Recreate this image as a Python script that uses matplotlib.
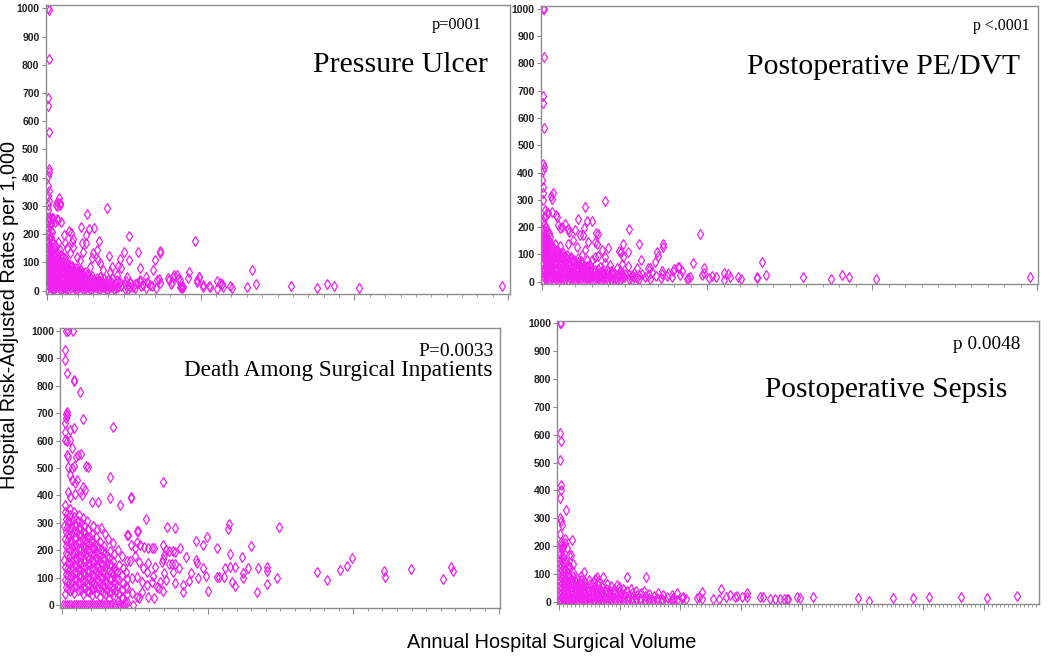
import matplotlib
matplotlib.use('Agg')
import matplotlib.pyplot as plt
from matplotlib.ticker import MultipleLocator

# x values are annual volume in panel units (thousands), y values are rates per 1,000
pressure_ulcer = [
    (0.05, 1000), (0.1, 995), (0.15, 819), (0.08, 681), (0.04, 654), (0.13, 561), (0.12, 430), (0.12, 420),
    (0.08, 405), (0.05, 370), (0.1, 352), (0.07, 335), (0.12, 318), (0.06, 302), (0.09, 287),
    (0.63, 315), (0.76, 327), (0.67, 300), (0.56, 305), (0.87, 312), (0.85, 303), (0.63, 253), (0.89, 244),
    (0.1, 262), (0.2, 255), (0.25, 240), (0.3, 258),
    (3.88, 294), (2.62, 270), (2.21, 227), (2.75, 217), (3.06, 223), (2.56, 197), (1.43, 212), (1.56, 203),
    (1.69, 182), (1.13, 196), (3.41, 175), (2.52, 168), (2.3, 168), (3.28, 144), (5.31, 195), (4.01, 123),
    (5.0, 137), (4.72, 111), (5.31, 109), (4.64, 88), (4.84, 79), (5.9, 136), (6.05, 79), (7.03, 109),
    (7.35, 132), (7.35, 141), (6.88, 73), (6.44, 50), (7.29, 40), (8.27, 54), (8.55, 43), (7.94, 38),
    (8.05, 24), (9.24, 67), (9.61, 177), (9.89, 50), (9.74, 32), (10.13, 12), (10.56, 17), (11.04, 34),
    (11.26, 28), (11.43, 14), (11.08, 5), (11.91, 17), (12.06, 11), (13.04, 14), (13.36, 73), (13.62, 24),
    (15.86, 17), (17.55, 8), (18.24, 24), (18.7, 17), (20.28, 8), (29.63, 18), (8.7, 12), (8.85, 14), (8.78, 17),
    (3.02, 132), (2.91, 115), (3.34, 109), (2.15, 109), (1.93, 121), (1.5, 132), (1.28, 150), (0.85, 144),
    (1.06, 121), (1.71, 156), (1.61, 174), (1.17, 168), (0.74, 174), (0.52, 162), (0.2, 185), (0.3, 209),
    (0.52, 244), (0.74, 250), (0.41, 256), (2.36, 138), (2.8, 85), (3.45, 97), (3.67, 73), (4.1, 67),
    (4.21, 85), (4.53, 56), (5.18, 50), (5.4, 32), (5.84, 26), (6.05, 38), (6.49, 32), (6.7, 20), (6.27, 20),
    (7.14, 38), (7.35, 26), (7.9, 44), (8.22, 50), (8.11, 32), (8.44, 56), (8.66, 38), (8.66, 14), (8.76, 8),
    (9.2, 44), (9.74, 38), (9.91, 50), (10.17, 20), (10.61, 14), (11.37, 23),
    (0.03, 5), (0.08, 20), (0.04, 35), (0.1, 50), (0.05, 65), (0.09, 80), (0.03, 95), (0.1, 110), (0.06, 125),
    (0.02, 140), (0.09, 155), (0.05, 170), (0.1, 185), (0.04, 200), (0.08, 215), (0.03, 230), (0.07, 245),
    (0.26, 10), (0.22, 25), (0.28, 40), (0.24, 55), (0.3, 70), (0.21, 85), (0.27, 100), (0.23, 115), (0.29, 130),
    (0.25, 145), (0.2, 160), (0.31, 175), (0.24, 190), (0.28, 210), (0.22, 228),
    (0.45, 5), (0.49, 18), (0.43, 33), (0.47, 48), (0.5, 62), (0.44, 77), (0.48, 92), (0.42, 108), (0.46, 123),
    (0.51, 138), (0.45, 152), (0.4, 168),
    (0.7, 12), (0.66, 27), (0.73, 42), (0.68, 57), (0.72, 72), (0.65, 87), (0.71, 102), (0.69, 118), (0.74, 133),
    (0.95, 5), (0.91, 20), (0.98, 35), (0.93, 50), (0.97, 66), (0.92, 81), (0.96, 96), (0.99, 112), (0.94, 127),
    (1.2, 10), (1.16, 24), (1.23, 39), (1.18, 54), (1.22, 70), (1.17, 85), (1.21, 100), (1.19, 116),
    (1.45, 4), (1.42, 19), (1.48, 34), (1.44, 48), (1.47, 63), (1.41, 78), (1.46, 94),
    (1.7, 12), (1.67, 27), (1.73, 42), (1.69, 57), (1.72, 72), (1.66, 88),
    (1.95, 6), (1.92, 20), (1.98, 35), (1.94, 50), (1.97, 65), (1.93, 80),
    (2.2, 14), (2.17, 29), (2.23, 44), (2.19, 59), (2.22, 74),
    (2.45, 5), (2.42, 20), (2.48, 35), (2.44, 50), (2.47, 66),
    (2.7, 12), (2.67, 27), (2.73, 42), (2.69, 58),
    (2.95, 6), (2.92, 21), (2.98, 36), (2.94, 51),
    (3.2, 14), (3.17, 29), (3.23, 44), (3.45, 5), (3.42, 20), (3.48, 35), (3.44, 50),
    (3.7, 13), (3.67, 28), (3.73, 43), (3.95, 6), (3.92, 21), (3.98, 37),
    (4.2, 14), (4.17, 29), (4.23, 45), (4.5, 8), (4.47, 23), (4.53, 38),
    (4.8, 15), (4.77, 30), (5.1, 7), (5.07, 22), (5.13, 36), (5.4, 14), (5.37, 28),
    (5.75, 9), (5.72, 24), (6.1, 16), (6.07, 30), (6.45, 10), (6.8, 18), (7.1, 8),
    (0.14, 13), (0.15, 28), (0.13, 43), (0.16, 58), (0.14, 73), (0.12, 88), (0.15, 103), (0.13, 118),
    (0.16, 133), (0.14, 148), (0.12, 163),
    (0.36, 6), (0.34, 21), (0.37, 36), (0.35, 51), (0.38, 66), (0.33, 81), (0.36, 96), (0.34, 111),
    (0.37, 126), (0.35, 141),
    (0.58, 13), (0.6, 28), (0.57, 43), (0.59, 58), (0.56, 73), (0.6, 88), (0.58, 103), (0.57, 118),
    (0.82, 6), (0.84, 21), (0.81, 36), (0.83, 51), (0.8, 66), (0.84, 81), (0.82, 96), (0.81, 111),
    (1.07, 13), (1.09, 28), (1.06, 43), (1.08, 58), (1.05, 73), (1.09, 88), (1.07, 103),
    (1.32, 6), (1.34, 21), (1.31, 36), (1.33, 51), (1.3, 66), (1.34, 81), (1.32, 96),
    (1.57, 13), (1.59, 28), (1.56, 43), (1.58, 58), (1.55, 73), (1.59, 88),
    (1.82, 6), (1.84, 21), (1.81, 36), (1.83, 51), (1.8, 66), (1.84, 80),
    (2.07, 13), (2.09, 28), (2.06, 43), (2.08, 58), (2.05, 70),
    (2.32, 6), (2.34, 21), (2.31, 36), (2.33, 51), (2.3, 64),
    (2.57, 13), (2.59, 28), (2.56, 43), (2.58, 55), (2.82, 6), (2.84, 21), (2.81, 36), (2.83, 48),
    (3.07, 13), (3.09, 28), (3.06, 43), (3.32, 6), (3.34, 21), (3.31, 36),
    (3.57, 13), (3.59, 28), (3.82, 6), (3.84, 21), (3.81, 35), (4.07, 13), (4.09, 28),
    (4.35, 6), (4.37, 20), (4.65, 12), (4.67, 26), (5.25, 6), (5.27, 20), (5.6, 12),
]

pe_dvt = [
    (0.04, 1000), (0.12, 1000), (0.12, 822), (0.08, 681), (0.04, 656), (0.1, 562), (0.08, 430), (0.12, 421),
    (0.04, 409), (0.02, 373), (0.04, 348), (0.06, 324), (0.04, 299),
    (0.55, 315), (0.69, 326), (0.63, 303), (2.61, 272), (3.84, 294), (0.63, 257), (0.83, 244), (2.2, 230),
    (2.71, 222), (3.01, 224), (1.37, 211), (1.56, 194), (1.64, 183), (1.09, 196), (2.53, 198), (5.29, 194),
    (3.37, 174), (2.3, 171), (2.5, 170), (3.98, 122), (3.23, 144), (4.93, 137), (4.69, 114), (5.23, 108),
    (5.88, 137), (6.02, 80), (7.31, 137), (7.31, 128), (6.99, 108), (6.83, 71), (6.4, 49), (7.25, 40),
    (9.58, 174), (9.17, 67), (9.84, 49), (8.22, 55), (8.51, 40), (7.92, 40), (8.77, 11), (10.1, 12),
    (9.68, 25), (10.55, 16), (11.01, 33), (11.01, 6), (11.27, 28), (11.39, 16), (11.9, 19), (12.04, 11),
    (13.0, 16), (13.02, 14), (13.33, 72), (13.6, 25), (15.8, 19), (17.5, 11), (18.2, 23), (18.6, 19),
    (20.24, 9), (29.6, 19),
    (0.18, 263), (0.28, 256), (0.38, 250), (0.18, 238), (0.89, 238), (1.6, 192), (1.19, 199), (0.99, 208),
    (3.27, 177), (2.81, 147), (3.31, 140), (2.0, 189), (1.9, 153), (2.1, 128), (1.6, 140), (4.77, 110),
    (4.93, 92), (7.05, 94), (8.02, 45), (8.32, 55), (8.36, 24), (8.87, 12), (8.97, 18), (9.84, 31), (10.28, 21),
    (6.55, 51), (6.65, 37), (5.74, 49), (5.23, 57), (4.83, 65), (4.53, 52), (4.12, 61), (3.82, 70), (3.52, 55),
    (3.62, 37), (4.22, 31), (4.83, 33), (5.43, 24), (6.04, 28), (6.44, 21), (7.25, 28), (7.66, 31), (7.86, 18),
    (3.21, 92), (3.01, 79), (3.41, 94), (3.62, 116), (3.82, 92), (2.61, 116), (2.4, 98), (2.2, 86), (2.71, 79),
    (2.91, 61),
    (0.03, 5), (0.07, 20), (0.04, 36), (0.09, 51), (0.05, 66), (0.1, 82), (0.03, 97), (0.08, 112), (0.05, 128),
    (0.1, 143), (0.04, 158), (0.08, 174), (0.03, 190), (0.09, 206), (0.05, 222), (0.1, 238),
    (0.27, 12), (0.23, 28), (0.3, 43), (0.25, 58), (0.29, 74), (0.22, 90), (0.28, 105), (0.24, 120), (0.3, 136),
    (0.26, 152), (0.21, 168), (0.29, 184), (0.25, 200),
    (0.5, 6), (0.47, 21), (0.53, 37), (0.49, 52), (0.52, 68), (0.46, 83), (0.51, 99), (0.48, 114), (0.54, 130),
    (0.47, 146), (0.5, 162), (0.45, 178),
    (0.76, 14), (0.72, 29), (0.79, 45), (0.74, 60), (0.78, 76), (0.71, 91), (0.77, 107), (0.73, 122), (0.8, 138),
    (1.02, 5), (0.98, 21), (1.05, 36), (1.0, 52), (1.04, 67), (0.97, 83), (1.03, 98), (0.99, 114), (1.06, 130),
    (1.28, 12), (1.24, 28), (1.31, 43), (1.26, 59), (1.3, 74), (1.23, 90), (1.29, 105),
    (1.55, 5), (1.51, 20), (1.57, 36), (1.53, 51), (1.56, 67), (1.5, 82), (1.54, 98),
    (1.8, 13), (1.77, 28), (1.83, 44), (1.79, 59), (1.82, 75), (1.76, 90),
    (2.06, 6), (2.03, 21), (2.09, 37), (2.05, 52), (2.08, 68),
    (2.32, 14), (2.29, 29), (2.35, 45), (2.31, 60), (2.34, 76),
    (2.58, 5), (2.55, 21), (2.61, 36), (2.57, 52), (2.84, 13), (2.81, 28), (2.87, 44), (2.83, 60),
    (3.1, 6), (3.07, 21), (3.13, 37), (3.36, 14), (3.33, 29), (3.39, 45),
    (3.62, 5), (3.59, 21), (3.65, 36), (3.88, 13), (3.85, 28), (3.91, 44),
    (4.15, 7), (4.12, 22), (4.18, 38), (4.42, 15), (4.39, 30),
    (4.7, 8), (4.67, 23), (4.73, 39), (4.98, 16), (5.01, 30), (5.28, 9), (5.25, 24),
    (5.58, 16), (5.55, 31), (5.9, 10), (5.87, 25), (6.22, 18), (6.55, 10), (6.88, 22), (7.2, 12), (7.55, 20),
    (0.15, 13), (0.16, 29), (0.14, 44), (0.17, 59), (0.15, 75), (0.13, 90), (0.16, 106), (0.14, 121),
    (0.17, 137), (0.15, 152), (0.13, 168), (0.16, 184),
    (0.38, 6), (0.36, 21), (0.39, 37), (0.37, 52), (0.4, 68), (0.35, 83), (0.38, 99), (0.36, 114),
    (0.39, 130), (0.37, 146),
    (0.62, 13), (0.64, 29), (0.61, 44), (0.63, 60), (0.6, 75), (0.64, 91), (0.62, 106), (0.61, 122),
    (0.88, 6), (0.9, 21), (0.87, 37), (0.89, 52), (0.86, 68), (0.9, 83), (0.88, 99), (0.87, 114),
    (1.15, 13), (1.17, 29), (1.14, 44), (1.16, 60), (1.13, 75), (1.17, 91), (1.15, 106),
    (1.41, 6), (1.43, 21), (1.4, 37), (1.42, 52), (1.39, 68), (1.43, 83), (1.41, 96),
    (1.68, 13), (1.7, 29), (1.67, 44), (1.69, 60), (1.66, 75), (1.7, 88),
    (1.94, 6), (1.96, 21), (1.93, 37), (1.95, 52), (1.92, 68), (1.96, 80),
    (2.2, 13), (2.22, 29), (2.19, 44), (2.21, 60), (2.18, 72),
    (2.46, 6), (2.48, 21), (2.45, 37), (2.47, 52), (2.44, 65),
    (2.72, 13), (2.74, 29), (2.71, 44), (2.73, 56), (2.98, 6), (3.0, 21), (2.97, 37), (2.99, 50),
    (3.24, 13), (3.26, 29), (3.23, 44), (3.5, 6), (3.52, 21), (3.49, 37),
    (3.76, 13), (3.78, 29), (4.02, 6), (4.04, 21), (4.01, 36), (4.28, 13), (4.3, 28),
    (4.56, 6), (4.58, 20), (4.85, 12), (4.87, 26), (5.45, 6), (5.47, 20), (5.75, 12),
]

death_surgical = [
    (0.29, 1000), (0.41, 1000), (0.75, 1000), (0.23, 930), (0.23, 896), (0.34, 848), (0.85, 823), (0.86, 818),
    (1.25, 778), (1.44, 679), (3.54, 649),
    (0.31, 699), (0.38, 705), (0.27, 681), (0.39, 693), (0.24, 663), (0.23, 632), (0.57, 638), (0.85, 645),
    (0.25, 602), (0.38, 600), (0.54, 602), (0.68, 574), (1.14, 547), (1.3, 550), (0.98, 541), (0.34, 547),
    (0.41, 541), (1.67, 508), (1.83, 505), (0.45, 505), (0.73, 499), (0.87, 508), (0.57, 474), (0.68, 456),
    (0.91, 444), (1.03, 458), (1.44, 432), (1.6, 419), (3.31, 468), (6.97, 450),
    (0.41, 413), (0.57, 395), (0.91, 407), (1.26, 413), (1.37, 401), (2.06, 377), (2.51, 377), (3.31, 389),
    (4.0, 365), (4.75, 395), (4.76, 392), (5.14, 270),
    (5.76, 313), (7.25, 285), (7.77, 280), (5.21, 271), (4.46, 255), (9.19, 235), (9.67, 219), (9.99, 249),
    (10.68, 207), (11.45, 294), (11.41, 276), (11.55, 185), (12.39, 176), (12.99, 215), (14.88, 283),
    (13.49, 136), (14.08, 140), (14.06, 124), (14.1, 75), (14.77, 100), (13.37, 46), (12.46, 116), (12.41, 97),
    (11.55, 137), (11.89, 137), (11.2, 136), (11.7, 85), (11.89, 71), (11.16, 102), (10.63, 103), (10.79, 103),
    (10.06, 51), (9.9, 107), (9.69, 136), (9.37, 97), (9.26, 152), (9.19, 164), (8.87, 118), (8.5, 176),
    (8.76, 88), (8.34, 73), (8.3, 48), (8.14, 207), (8.05, 136), (7.77, 192), (7.66, 197), (7.36, 197),
    (7.16, 201), (6.97, 219), (7.02, 182), (6.86, 158), (6.93, 167), (7.04, 116), (7.13, 91), (7.38, 148),
    (7.54, 148), (7.77, 148), (7.66, 122), (7.77, 79), (6.74, 85), (6.7, 61), (6.97, 51), (6.4, 137),
    (6.33, 24), (6.24, 107), (5.33, 24), (12.78, 136),
    (17.49, 119), (18.17, 93), (19.09, 127), (19.59, 142), (19.91, 170), (22.08, 124), (22.17, 101),
    (23.98, 130), (26.16, 95), (26.67, 140), (26.81, 125),
    (4.53, 255), (4.76, 219), (5.03, 207), (5.14, 231), (5.37, 219), (5.65, 213), (5.94, 207), (6.17, 207),
    (6.33, 207), (4.69, 161), (5.03, 180), (5.33, 158), (5.6, 134), (5.94, 152), (5.83, 122),
    (4.8, 97), (5.14, 103), (5.49, 85), (5.83, 73), (6.17, 85), (6.52, 67), (4.46, 61), (4.8, 43), (5.14, 30),
    (5.49, 49), (5.94, 30), (4.12, 24), (4.34, 12),
    (0.11, 0), (0.25, 0), (0.39, 0), (0.53, 0), (0.67, 0), (0.81, 0), (0.95, 0), (1.09, 0), (1.23, 0), (1.37, 0),
    (1.51, 0), (1.65, 0), (1.79, 0), (1.93, 0), (2.07, 0), (2.21, 0), (2.35, 0), (2.49, 0), (2.63, 0),
    (2.77, 0), (2.91, 0), (3.05, 0), (3.19, 0), (3.33, 0), (3.47, 0), (3.62, 0), (3.89, 0), (4.03, 0),
    (4.17, 0), (4.34, 0), (4.92, 0),
    (0.22, 40), (0.28, 65), (0.2, 90), (0.3, 115), (0.24, 140), (0.19, 165), (0.27, 190), (0.31, 215),
    (0.21, 240), (0.26, 265), (0.18, 290), (0.29, 315), (0.23, 340), (0.2, 365),
    (0.55, 52), (0.5, 77), (0.6, 102), (0.53, 127), (0.58, 152), (0.49, 177), (0.56, 202), (0.61, 227),
    (0.52, 252), (0.57, 277), (0.5, 302), (0.59, 327), (0.54, 350),
    (0.85, 45), (0.9, 70), (0.81, 95), (0.88, 120), (0.83, 145), (0.92, 170), (0.86, 195), (0.8, 220),
    (0.89, 245), (0.84, 270), (0.91, 295), (0.82, 320), (0.87, 340),
    (1.15, 55), (1.1, 80), (1.19, 105), (1.13, 130), (1.2, 155), (1.12, 180), (1.17, 205), (1.09, 230),
    (1.16, 255), (1.21, 280), (1.11, 305), (1.18, 330),
    (1.45, 42), (1.5, 67), (1.42, 92), (1.48, 117), (1.4, 142), (1.51, 167), (1.44, 192), (1.49, 217),
    (1.41, 242), (1.47, 267), (1.52, 292), (1.43, 318),
    (1.75, 50), (1.7, 75), (1.79, 100), (1.72, 125), (1.8, 150), (1.73, 175), (1.78, 200), (1.69, 225),
    (1.76, 250), (1.81, 275), (1.71, 305),
    (2.05, 35), (2.1, 60), (2.01, 85), (2.08, 110), (2.02, 135), (2.11, 160), (2.04, 185), (2.09, 210),
    (2.0, 235), (2.07, 260), (2.12, 290),
    (2.35, 45), (2.3, 70), (2.39, 95), (2.32, 120), (2.4, 145), (2.33, 170), (2.38, 195), (2.29, 220),
    (2.36, 248), (2.41, 278),
    (2.65, 30), (2.7, 55), (2.61, 80), (2.68, 105), (2.62, 130), (2.71, 155), (2.64, 180), (2.69, 205),
    (2.6, 230), (2.67, 280),
    (2.95, 40), (2.9, 65), (2.99, 90), (2.92, 115), (3.0, 140), (2.93, 165), (2.98, 190), (2.89, 215), (2.96, 258),
    (3.25, 22), (3.3, 48), (3.21, 73), (3.28, 98), (3.22, 123), (3.31, 148), (3.24, 173), (3.29, 198), (3.2, 240),
    (3.55, 35), (3.5, 60), (3.59, 85), (3.52, 110), (3.6, 135), (3.53, 160), (3.58, 185), (3.49, 228),
    (3.85, 15), (3.9, 42), (3.81, 68), (3.88, 95), (3.82, 120), (3.91, 145), (3.84, 200),
    (4.15, 28), (4.1, 55), (4.19, 82), (4.12, 108), (4.2, 135), (4.13, 178),
    (4.45, 12), (4.5, 40), (4.41, 68), (4.48, 95), (4.42, 122), (4.51, 160),
    (0.4, 58), (0.37, 83), (0.42, 108), (0.38, 133), (0.41, 158), (0.36, 183), (0.43, 208), (0.39, 233),
    (0.4, 258), (0.37, 283), (0.42, 308), (0.38, 333),
    (0.7, 60), (0.73, 85), (0.68, 110), (0.72, 135), (0.69, 160), (0.74, 185), (0.7, 210), (0.67, 235),
    (0.71, 260), (0.73, 285), (0.68, 310),
    (1.0, 68), (0.97, 93), (1.02, 118), (0.98, 143), (1.03, 168), (0.99, 193), (1.01, 218), (0.96, 243),
    (1.02, 268), (0.98, 293),
    (1.3, 55), (1.27, 80), (1.32, 105), (1.28, 130), (1.33, 155), (1.29, 180), (1.31, 205), (1.26, 230),
    (1.32, 255), (1.28, 280), (1.3, 300),
    (1.6, 62), (1.63, 87), (1.58, 112), (1.62, 137), (1.59, 162), (1.64, 187), (1.6, 212), (1.57, 237),
    (1.61, 262),
    (1.9, 48), (1.87, 73), (1.92, 98), (1.88, 123), (1.93, 148), (1.89, 173), (1.91, 198), (1.86, 223),
    (1.92, 248),
    (2.2, 57), (2.23, 82), (2.18, 107), (2.22, 132), (2.19, 157), (2.24, 182), (2.2, 207), (2.17, 232),
    (2.5, 62), (2.47, 87), (2.52, 112), (2.48, 137), (2.53, 162), (2.49, 187), (2.51, 212),
    (2.8, 48), (2.83, 73), (2.78, 98), (2.82, 123), (2.79, 148), (2.84, 173), (2.8, 198),
    (3.1, 55), (3.07, 80), (3.12, 105), (3.08, 130), (3.13, 155), (3.09, 180),
    (3.4, 45), (3.43, 70), (3.38, 95), (3.42, 120), (3.39, 145),
    (3.7, 50), (3.67, 75), (3.72, 100), (3.68, 125),
]

sepsis = [
    (0.08, 1000), (0.19, 1000), (0.08, 605), (0.19, 577), (0.08, 509), (0.13, 419), (0.13, 401), (0.11, 371),
    (0.58, 330), (0.08, 300), (0.16, 290), (0.22, 276), (0.08, 243), (1.1, 222), (0.49, 224), (0.63, 192),
    (0.14, 216), (0.17, 204), (0.2, 192), (0.85, 166), (1.18, 136), (0.22, 156), (0.3, 144), (0.41, 126),
    (0.36, 198), (0.49, 210), (0.22, 186), (0.36, 162), (0.49, 144), (0.96, 168), (0.77, 132), (0.91, 126),
    (2.09, 106), (3.1, 90), (3.6, 87), (2.99, 81), (5.63, 87), (7.17, 87), (4.81, 60),
    (11.76, 36), (13.38, 45), (15.47, 30), (16.57, 18), (17.83, 9), (18.54, 9), (19.59, 16), (20.9, 16),
    (24.67, 12), (25.52, 4), (27.53, 12), (29.15, 12), (30.52, 18), (33.13, 18), (35.25, 15), (37.77, 22),
    (15.05, 18), (15.47, 16), (16.84, 16), (17.39, 9), (18.2, 9), (18.8, 9), (18.9, 11), (19.86, 12),
    (12.66, 9), (13.2, 9), (13.8, 16), (14.09, 24), (14.5, 18), (14.7, 21), (11.35, 12), (11.57, 18),
    (11.76, 9), (10.25, 18), (9.7, 30), (9.42, 12),
    (0.05, 3), (0.4, 3), (0.75, 3), (1.1, 3), (1.45, 3), (1.8, 3), (2.15, 3), (2.5, 3), (2.85, 3), (3.2, 3),
    (3.55, 3), (3.9, 3), (4.25, 3), (4.6, 3), (4.95, 3), (5.3, 3), (5.65, 3), (6.0, 3), (6.35, 3), (6.7, 3),
    (7.05, 3), (7.4, 3), (7.75, 3), (8.1, 3), (8.45, 3), (8.8, 3), (9.3, 3), (9.9, 3),
    (0.2, 5), (0.3, 5), (0.5, 5), (0.6, 5), (0.85, 5), (0.95, 5), (1.2, 5), (1.3, 5),
    (0.08, 10), (0.12, 26), (0.06, 42), (0.11, 58), (0.07, 74), (0.13, 90), (0.09, 106), (0.05, 122),
    (0.12, 138), (0.08, 154), (0.1, 170),
    (0.4, 14), (0.44, 30), (0.37, 46), (0.42, 62), (0.38, 78), (0.45, 94), (0.41, 110),
    (0.75, 8), (0.79, 24), (0.72, 40), (0.77, 56), (0.73, 72), (0.8, 88), (0.76, 104), (0.71, 120),
    (1.1, 12), (1.14, 28), (1.07, 44), (1.12, 60), (1.08, 76), (1.15, 92), (1.11, 108),
    (1.45, 6), (1.49, 22), (1.42, 38), (1.47, 54), (1.43, 70), (1.5, 86),
    (1.8, 14), (1.84, 30), (1.77, 46), (1.82, 62), (1.78, 78), (1.85, 94),
    (2.15, 8), (2.19, 24), (2.12, 40), (2.17, 56), (2.13, 72),
    (2.5, 14), (2.54, 30), (2.47, 46), (2.52, 62), (2.48, 78),
    (2.85, 6), (2.89, 22), (2.82, 38), (2.87, 54), (2.83, 70),
    (3.2, 12), (3.24, 28), (3.17, 44), (3.22, 60), (3.18, 76),
    (3.55, 6), (3.59, 22), (3.52, 38), (3.57, 54),
    (3.9, 14), (3.94, 30), (3.87, 46), (3.92, 62),
    (4.25, 8), (4.29, 24), (4.22, 40), (4.27, 56),
    (4.6, 14), (4.64, 30), (4.57, 46), (4.95, 6), (4.99, 22), (4.92, 38), (4.97, 54),
    (5.3, 12), (5.34, 28), (5.27, 44), (5.65, 6), (5.69, 22), (5.62, 38),
    (6.0, 14), (6.04, 30), (5.97, 46), (6.35, 8), (6.39, 24), (6.32, 40),
    (6.7, 14), (6.74, 30), (7.05, 6), (7.09, 22), (7.02, 38), (7.4, 12), (7.44, 28),
    (7.75, 6), (7.79, 22), (8.1, 14), (8.14, 30), (8.5, 8), (8.54, 24), (8.9, 16),
    (9.3, 10), (9.34, 24), (9.7, 6), (10.1, 14), (10.5, 8),
    (0.25, 18), (0.27, 34), (0.24, 50), (0.26, 66), (0.23, 82), (0.27, 98), (0.25, 114),
    (0.6, 10), (0.62, 26), (0.59, 42), (0.61, 58), (0.58, 74), (0.62, 90),
    (0.95, 18), (0.97, 34), (0.94, 50), (0.96, 66), (0.93, 82),
    (1.3, 10), (1.32, 26), (1.29, 42), (1.31, 58), (1.28, 74),
    (1.65, 18), (1.67, 34), (1.64, 50), (1.66, 66), (2.0, 10), (2.02, 26), (1.99, 42), (2.01, 58),
    (2.35, 18), (2.37, 34), (2.34, 50), (2.7, 10), (2.72, 26), (2.69, 42),
    (3.05, 18), (3.07, 34), (3.04, 50), (3.4, 10), (3.42, 26), (3.39, 42),
    (3.75, 18), (3.77, 34), (4.1, 10), (4.12, 26), (4.45, 18), (4.47, 34), (5.1, 14), (5.12, 30), (5.8, 14),
]

panels = [
    # data, title, p value, axes rect, xlim, ylim, major step, minor step, title pos/size, p pos/size
    (pressure_ulcer, 'Pressure Ulcer', 'p=0001', [0.0435, 0.5539, 0.4422, 0.4381],
     (-0.085, 30.12), (-11.7, 1010.6), 10, 1, (0.953, 0.769, 21.5), (0.9397, 0.918, 11.7)),
    (pe_dvt, 'Postoperative PE/DVT', 'p <.0001', [0.515, 0.569, 0.4736, 0.4224],
     (-0.08, 30.06), (-8.4, 1011), 10, 1, (0.9638, 0.7546, 21.3), (0.984, 0.9127, 11.5)),
    (death_surgical, 'Death Among Surgical Inpatients', 'P=0.0033', [0.0574, 0.0769, 0.4188, 0.4249],
     (-0.1, 30.06), (-12, 1009.9), 10, 1, (0.9818, 0.83, 16.7), (0.9864, 0.901, 14)),
    (sepsis, 'Postoperative Sepsis', 'p 0.0048', [0.5308, 0.083, 0.4587, 0.4299],
     (-0.14, 39.57), (-9.3, 1008.3), 5, 1 / 3, (0.9335, 0.7317, 21.2), (0.9606, 0.901, 13.9)),
]

fig = plt.figure(figsize=(10.5, 6.59), dpi=100)
serif = ['Liberation Serif', 'DejaVu Serif']
axis_grey = '#8c8c8c'

for pts, title, pval, rect, xl, yl, major, minor, tpos, ppos in panels:
    ax = fig.add_axes(rect)
    xs = [p[0] for p in pts]
    ys = [p[1] for p in pts]
    ax.plot(xs, ys, linestyle='none', marker='d', ms=4.6, mfc='none', mec='#f020f0', mew=0.9)
    ax.set_xlim(*xl)
    ax.set_ylim(*yl)
    ax.xaxis.set_major_locator(MultipleLocator(major))
    ax.xaxis.set_minor_locator(MultipleLocator(minor))
    ax.yaxis.set_major_locator(MultipleLocator(100))
    ax.tick_params(axis='x', which='major', length=4, color=axis_grey, labelbottom=False)
    ax.tick_params(axis='x', which='minor', length=2.5, color=axis_grey)
    ax.tick_params(axis='y', length=3, color=axis_grey, pad=1.5, labelsize=7.5, labelcolor='#222222')
    for lab in ax.get_yticklabels():
        lab.set_fontweight('bold')
        lab.set_family(['Liberation Sans', 'DejaVu Sans'])
    for sp in ax.spines.values():
        sp.set_color(axis_grey)
        sp.set_linewidth(1.0)
    ax.text(tpos[0], tpos[1], title, transform=ax.transAxes, ha='right', va='baseline',
            fontsize=tpos[2], family=serif)
    ax.text(ppos[0], ppos[1], pval, transform=ax.transAxes, ha='right', va='baseline',
            fontsize=ppos[2], family=serif)

fig.text(0.0095, 0.522, 'Hospital Risk-Adjusted Rates per 1,000', rotation=90, ha='center', va='center',
         fontsize=14.3, family=['Liberation Sans', 'DejaVu Sans'])
fig.text(0.525, 0.017, 'Annual Hospital Surgical Volume', ha='center', va='baseline',
         fontsize=14.3, family=['Liberation Sans', 'DejaVu Sans'])

plt.savefig('out.png', dpi=100)
